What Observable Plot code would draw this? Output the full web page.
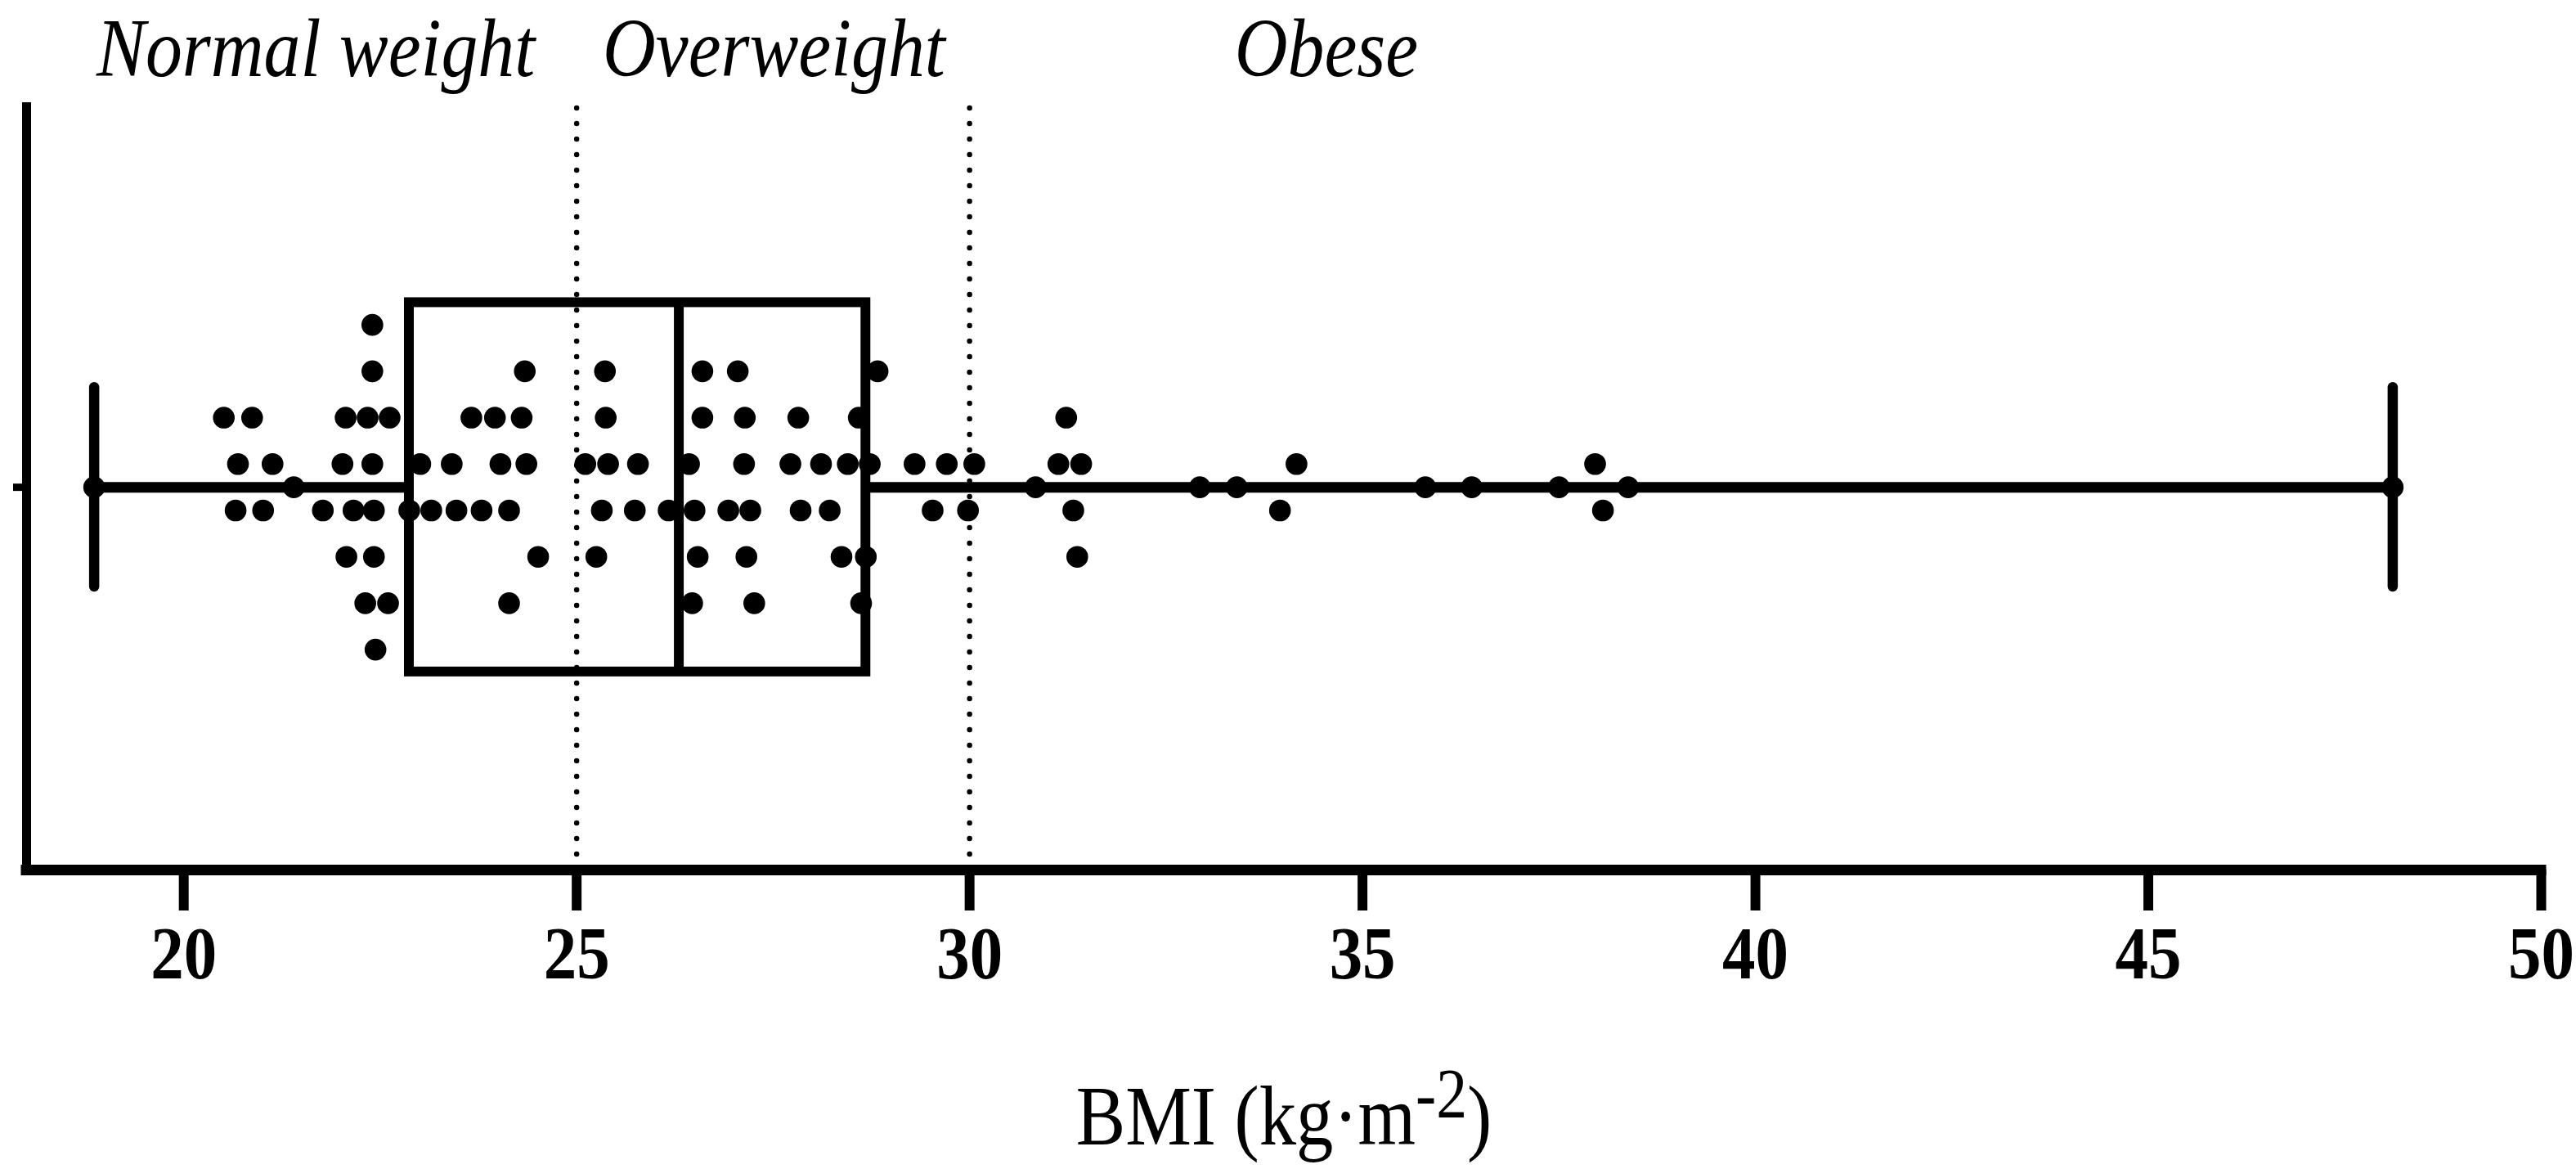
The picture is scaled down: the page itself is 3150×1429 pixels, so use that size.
<!DOCTYPE html>
<html>
<head>
<meta charset="utf-8">
<script src="https://cdn.jsdelivr.net/npm/d3@7"></script>
<script src="https://cdn.jsdelivr.net/npm/@observablehq/plot@0.6"></script>
<style>
  html, body { margin: 0; padding: 0; background: #fff; }
  #chart svg { display: block; }
</style>
</head>
<body>
<div id="chart"></div>
<script>
// ---------- data (BMI values, grouped by beeswarm lane) ----------
const laneUp35   = [22.40];
const laneUp25   = [22.40, 24.34, 25.36, 26.60, 27.05, 28.83];
const laneUp15   = [20.51, 20.87, 22.06, 22.34, 22.62, 23.66, 23.96, 24.30, 25.37, 26.60, 27.14, 27.82, 28.59, 31.23];
const laneUp05   = [20.69, 21.13, 22.02, 22.40, 23.01, 23.41, 24.03, 24.36, 25.11, 25.40, 25.78, 26.43, 27.13, 27.72,
                    28.11, 28.45, 28.73, 29.30, 29.71, 30.06, 31.13, 31.42, 34.16, 37.96];
const laneMid    = [18.86, 21.40, 30.84, 32.93, 33.40, 35.80, 36.39, 37.50, 38.38, 48.11];
const laneDown05 = [20.66, 21.01, 21.77, 22.16, 22.42, 22.87, 23.15, 23.47, 23.79, 24.14, 25.32, 25.74, 26.17, 26.50,
                    26.93, 27.21, 27.85, 28.22, 29.53, 29.98, 31.32, 33.95, 38.06];
const laneDown15 = [22.07, 22.42, 24.51, 25.25, 26.54, 27.16, 28.37, 28.68, 31.37];
const laneDown25 = [22.31, 22.60, 24.14, 26.47, 27.26, 28.62];
const laneDown35 = [22.44];

const laneOffsets = [3.5, 2.5, 1.5, 0.5, 0, -0.5, -1.5, -2.5, -3.5];
const laneGroups  = [laneUp35, laneUp25, laneUp15, laneUp05, laneMid, laneDown05, laneDown15, laneDown25, laneDown35];

// box-and-whisker summary (min to max whiskers)
const summaryStats = [{min: 18.86, q1: 22.87, median: 26.30, q3: 28.68, max: 48.11}];

// BMI category cut-offs and labels
const cutoffs = [25, 30];
const categories = ["Normal weight", "Overweight", "Obese"];
const categoryCenters = [21.68, 27.51, 34.54];

// axis
const xDomain = [18, 50];
const xTicks = [20, 25, 30, 35, 40, 45, 50];
const axisTitleParts = ["BMI (kg·m", "-2", ")"];
const axisTitle = axisTitleParts.join("");

// ---------- build table ----------
const points = laneOffsets.flatMap((lane, i) => laneGroups[i].map(bmi => ({bmi, lane})));

// ---------- layout ----------
const serif = "'Liberation Serif', 'Times New Roman', serif";
const laneDomain = [-8.25, 8.29];
const boxHalf = 3.98;
const capHalf = 2.15;
const refTop = 8.38;

const chart = Plot.plot({
  width: 3150,
  height: 1429,
  marginLeft: 32,
  marginRight: 43,
  marginTop: 125,
  marginBottom: 366,
  style: {fontFamily: serif, color: "black", background: "white", fontSize: "92px"},
  x: {domain: xDomain, label: null},
  y: {domain: laneDomain, label: null},
  marks: [
    // dotted category cut-offs
    Plot.ruleX(cutoffs, {x: d => d, y1: laneDomain[0], y2: refTop, stroke: "black",
      strokeWidth: 6.5, strokeDasharray: "0,19", strokeLinecap: "round"}),
    // box
    Plot.rect(summaryStats, {x1: "q1", x2: "q3", y1: -boxHalf, y2: boxHalf,
      fill: "none", stroke: "black", strokeWidth: 12}),
    Plot.ruleX(summaryStats, {x: "median", y1: -boxHalf, y2: boxHalf, stroke: "black", strokeWidth: 12}),
    // whiskers
    Plot.ruleY(summaryStats, {y: 0, x1: "min", x2: "q1", stroke: "black", strokeWidth: 13}),
    Plot.ruleY(summaryStats, {y: 0, x1: "q3", x2: "max", stroke: "black", strokeWidth: 13}),
    Plot.ruleX(summaryStats.flatMap(d => [d.min, d.max]), {x: d => d, y1: -capHalf, y2: capHalf,
      stroke: "black", strokeWidth: 12.5, strokeLinecap: "round"}),
    // individual points
    Plot.dot(points, {x: "bmi", y: "lane", r: 13.3, fill: "black", stroke: "none"}),
    // axis lines
    Plot.ruleX([xDomain[0]], {y1: laneDomain[0], y2: laneDomain[1], stroke: "black", strokeWidth: 11}),
    Plot.ruleY([laneDomain[0]], {x1: xDomain[0], x2: xDomain[1], stroke: "black", strokeWidth: 13, strokeLinecap: "square"}),
    Plot.axisX({ticks: xTicks, tickSize: 50, tickPadding: 17, strokeWidth: 12, stroke: "black",
      fontSize: 92, fontWeight: "bold", fontFamily: serif, fill: "black", label: null}),
    Plot.axisY({ticks: [0], tickSize: 16, strokeWidth: 9, stroke: "black", tickFormat: () => "", label: null}),
    // category labels
    Plot.text(categories, {x: (d, i) => categoryCenters[i], frameAnchor: "top", dy: -33, lineAnchor: "bottom",
      fontSize: 102, fontStyle: "italic", fontFamily: serif, fill: "black"}),
    // axis title
    Plot.text([axisTitle], {frameAnchor: "bottom", dy: 335, lineAnchor: "bottom",
      fontSize: 103, fontFamily: serif, fill: "black"})
  ]
});

document.getElementById("chart").append(chart);

// superscript in the axis title
const NS = "http://www.w3.org/2000/svg";
chart.querySelectorAll("text").forEach(el => {
  if (el.textContent === axisTitle) {
    el.textContent = "";
    const t1 = document.createElementNS(NS, "tspan");
    t1.textContent = axisTitleParts[0];
    const t2 = document.createElementNS(NS, "tspan");
    t2.textContent = axisTitleParts[1];
    t2.setAttribute("font-size", "86");
    t2.setAttribute("dy", "-33");
    const t3 = document.createElementNS(NS, "tspan");
    t3.textContent = axisTitleParts[2];
    t3.setAttribute("dy", "33");
    el.append(t1, t2, t3);
  }
});

// the reference lettering is slightly condensed horizontally
const sx = 0.88;
chart.querySelectorAll("text").forEach(el => {
  let t = el.getAttribute("transform") || "";
  const x = el.getAttribute("x");
  if (x !== null && !isNaN(+x)) { t += ` translate(${+x},0)`; el.removeAttribute("x"); }
  el.setAttribute("transform", `${t} scale(${sx},1)`);
});
</script>
</body>
</html>
